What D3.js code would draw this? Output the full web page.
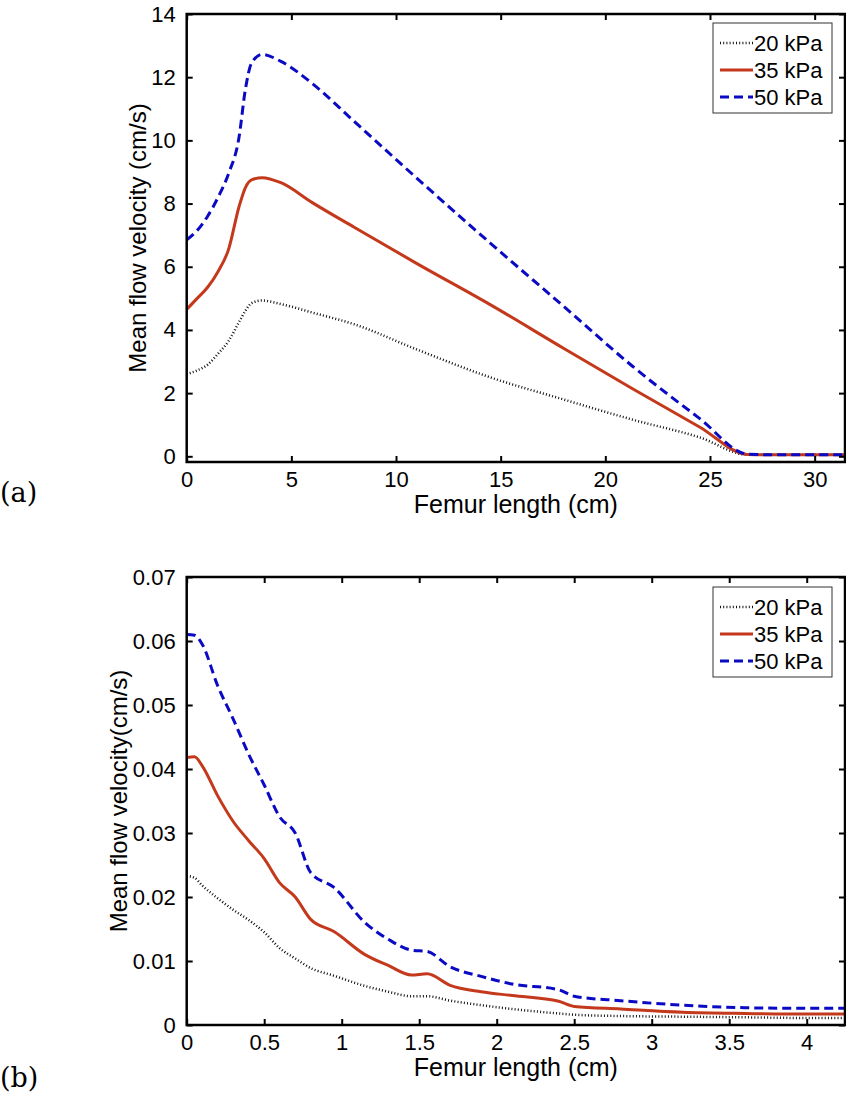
<!DOCTYPE html>
<html>
<head>
<meta charset="utf-8">
<script src="https://cdn.jsdelivr.net/npm/d3@7"></script>
<style>
    body { margin: 0; background: #fff; }
    text { font-family: "Liberation Sans", Arial, sans-serif; fill: #000; }
    .panel-tag { font-family: "DejaVu Serif", "Liberation Serif", serif; }
</style>
</head>
<body>
<div id="vis"></div>
<script>
// ---- data ----
const labels = ["20 kPa", "35 kPa", "50 kPa"];

// panel (a)
const xA = [0, 0.5, 1, 1.5, 2, 2.5, 2.8, 3.1, 3.6, 4.5, 6, 8, 11, 14.5, 18, 21.3, 24.5, 26.8, 28, 30, 31.4];
const a20 = [2.6, 2.72, 2.9, 3.25, 3.65, 4.25, 4.6, 4.85, 4.93, 4.82, 4.55, 4.18, 3.38, 2.5, 1.8, 1.16, 0.6, 0.05, 0.05, 0.05, 0.05];
const a35 = [4.65, 5.0, 5.35, 5.85, 6.55, 7.9, 8.5, 8.75, 8.82, 8.66, 8.03, 7.25, 6.1, 4.8, 3.42, 2.14, 0.93, 0.06, 0.05, 0.05, 0.05];
const a50 = [6.85, 7.15, 7.6, 8.2, 8.95, 10.1, 11.6, 12.45, 12.72, 12.5, 11.8, 10.6, 8.8, 6.75, 4.75, 2.85, 1.2, 0.07, 0.05, 0.05, 0.05];
const xTicksA = [0, 5, 10, 15, 20, 25, 30];
const yTicksA = [0, 2, 4, 6, 8, 10, 12, 14];

// panel (b)
const xB = [0, 0.05, 0.1, 0.2, 0.3, 0.4, 0.5, 0.6, 0.7, 0.8, 0.95, 1.15, 1.3, 1.45, 1.55, 1.7, 1.9, 2.1, 2.4, 2.5, 2.8, 3.2, 3.6, 4.0, 4.25];
const b20 = [0.0233, 0.0230, 0.0218, 0.0198, 0.0180, 0.0164, 0.0145, 0.0120, 0.0104, 0.0089, 0.0077, 0.0061, 0.0052, 0.0045, 0.0045, 0.0038, 0.0031, 0.0025, 0.0018, 0.0016, 0.0014, 0.0013, 0.0012, 0.0011, 0.0011];
const b35 = [0.0418, 0.0419, 0.0405, 0.0358, 0.0318, 0.0288, 0.0260, 0.0222, 0.0200, 0.0165, 0.0146, 0.0110, 0.0093, 0.0078, 0.0080, 0.0062, 0.0052, 0.0046, 0.0037, 0.0029, 0.0025, 0.0020, 0.0018, 0.0017, 0.0017];
const b50 = [0.0610, 0.0609, 0.0595, 0.0530, 0.0478, 0.0423, 0.0375, 0.0325, 0.0300, 0.0238, 0.0215, 0.0160, 0.0134, 0.0117, 0.0115, 0.0091, 0.0076, 0.0064, 0.0055, 0.0045, 0.0038, 0.0031, 0.0027, 0.0026, 0.0026];
const xTicksB = [0, 0.5, 1, 1.5, 2, 2.5, 3, 3.5, 4];
const yTicksB = [0, 0.01, 0.02, 0.03, 0.04, 0.05, 0.06, 0.07];

// line styles per series (20, 35, 50 kPa)
const styles = [
    {color: "#111", width: 2.5, dash: "1,2.2"},
    {color: "#c4391b", width: 3, dash: null},
    {color: "#0a0ac4", width: 3, dash: "9,5"}
];

let svg = d3.select("#vis")
    .append("svg")
    .attr("width", 846)
    .attr("height", 1095);

////////// one panel //////////

function drawPanel(cfg) {
    let left = 186.7, right = 845;
    let x = d3.scaleLinear().domain(cfg.xDomain).range([left, right]);
    let y = d3.scaleLinear().domain(cfg.yDomain).range([cfg.bottom, cfg.top]);

    let g = svg.append("g");

    // series
    let line = d3.line()
        .x(d => x(d[0]))
        .y(d => y(d[1]))
        .curve(d3.curveMonotoneX);

    cfg.series.forEach((vals, i) => {
        let st = styles[i];
        g.append("path")
            .datum(cfg.xs.map((v, j) => [v, vals[j]]))
            .attr("fill", "none")
            .attr("stroke", st.color)
            .attr("stroke-width", st.width)
            .attr("stroke-dasharray", st.dash)
            .attr("d", line);
    });

    // inward ticks on all four sides, matlab style
    let tick = 6;
    g.append("g")
        .attr("transform", "translate(0," + cfg.bottom + ")")
        .call(d3.axisBottom(x).tickValues(cfg.xTicks).tickSizeInner(-tick).tickSizeOuter(0)
            .tickPadding(tick + 3).tickFormat(cfg.xFmt))
        .call(s => s.selectAll("text").attr("font-size", 22));
    g.append("g")
        .attr("transform", "translate(0," + cfg.top + ")")
        .call(d3.axisTop(x).tickValues(cfg.xTicks).tickSizeInner(-tick).tickSizeOuter(0).tickFormat(""));
    g.append("g")
        .attr("transform", "translate(" + left + ",0)")
        .call(d3.axisLeft(y).tickValues(cfg.yTicks).tickSizeInner(-tick).tickSizeOuter(0)
            .tickPadding(tick + 5).tickFormat(cfg.yFmt))
        .call(s => s.selectAll("text").attr("font-size", 22));
    g.append("g")
        .attr("transform", "translate(" + right + ",0)")
        .call(d3.axisRight(y).tickValues(cfg.yTicks).tickSizeInner(-tick).tickSizeOuter(0).tickFormat(""));

    g.selectAll(".domain").remove();
    g.selectAll(".tick line").attr("stroke", "#000").attr("stroke-width", 2);
    g.selectAll(".tick text").attr("fill", "#000").attr("font-family", "'Liberation Sans', Arial, sans-serif");

    g.append("rect")
        .attr("x", left)
        .attr("y", cfg.top)
        .attr("width", right - left)
        .attr("height", cfg.bottom - cfg.top)
        .attr("fill", "none")
        .attr("stroke", "#000")
        .attr("stroke-width", 2.5);

    // axis titles
    g.append("text")
        .attr("x", (left + right) / 2)
        .attr("y", cfg.bottom + 51)
        .attr("text-anchor", "middle")
        .attr("font-size", 25)
        .text("Femur length (cm)");

    g.append("text")
        .attr("transform", "translate(" + cfg.yTitleX + "," + (cfg.top + cfg.bottom) / 2 + ") rotate(-90)")
        .attr("text-anchor", "middle")
        .attr("font-size", 24)
        .text(cfg.yTitle);

    // panel tag
    g.append("text")
        .attr("class", "panel-tag")
        .attr("x", 0)
        .attr("y", cfg.tagY)
        .attr("font-size", 27)
        .text(cfg.tag);

    // legend
    let lg = g.append("g").attr("transform", "translate(713," + cfg.legendTop + ")");
    lg.append("rect")
        .attr("width", 119)
        .attr("height", 90)
        .attr("fill", "#fff")
        .attr("stroke", "#333")
        .attr("stroke-width", 1);
    labels.forEach((lab, i) => {
        let st = styles[i];
        let cy = 20 + i * 27;
        lg.append("line")
            .attr("x1", 7)
            .attr("x2", 40)
            .attr("y1", cy)
            .attr("y2", cy)
            .attr("stroke", st.color)
            .attr("stroke-width", st.width)
            .attr("stroke-dasharray", st.dash);
        lg.append("text")
            .attr("x", 41)
            .attr("y", cy + 8)
            .attr("font-size", 22)
            .text(lab);
    });
}

drawPanel({
    xs: xA, series: [a20, a35, a50],
    xDomain: [0, 31.45], yDomain: [-0.18, 14],
    top: 14, bottom: 462,
    xTicks: xTicksA, yTicks: yTicksA,
    xFmt: d3.format("d"), yFmt: d3.format("d"),
    yTitle: "Mean flow velocity (cm/s)", yTitleX: 146,
    tag: "(a)", tagY: 502, legendTop: 23
});

drawPanel({
    xs: xB, series: [b20, b35, b50],
    xDomain: [0, 4.247], yDomain: [0, 0.07],
    top: 577, bottom: 1025,
    xTicks: xTicksB, yTicks: yTicksB,
    xFmt: d => d3.format("")(d), yFmt: d => d3.format("")(+d.toFixed(2)),
    yTitle: "Mean flow velocity(cm/s)", yTitleX: 127,
    tag: "(b)", tagY: 1087, legendTop: 587
});
</script>
</body>
</html>
